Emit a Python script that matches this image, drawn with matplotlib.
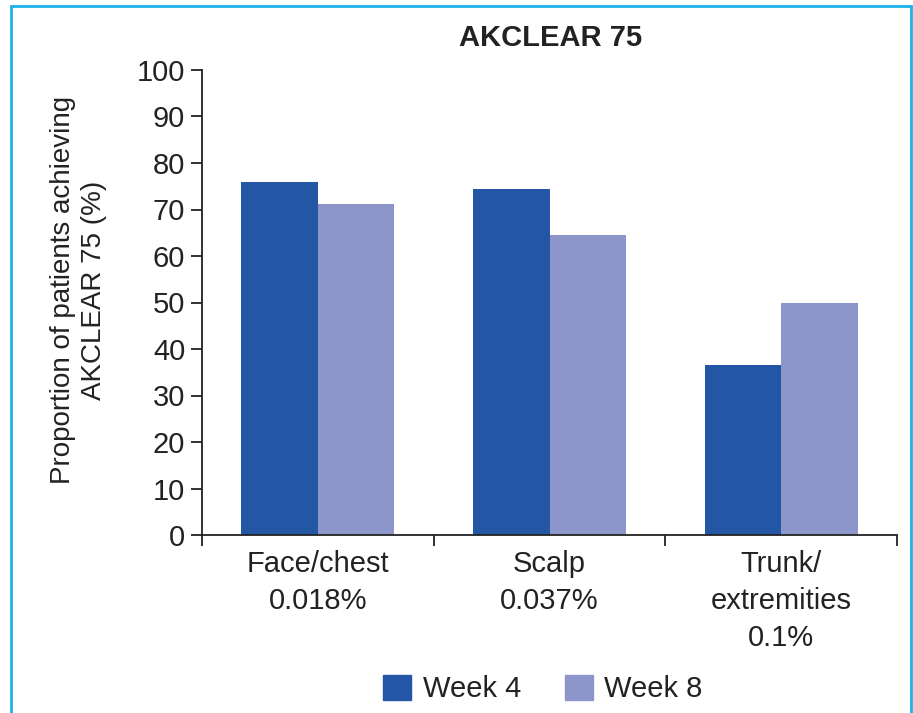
import numpy as np
import matplotlib.pyplot as plt
from matplotlib.patches import Rectangle, Patch

plt.rcParams['font.family'] = ['Liberation Sans', 'DejaVu Sans']

sites = ["Face/chest\n0.018%", "Scalp\n0.037%", "Trunk/\nextremities\n0.1%"]
week4 = [75.9, 74.4, 36.6]
week8 = [71.1, 64.6, 50.0]
series_names = ["Week 4", "Week 8"]
yticks = np.arange(0, 101, 10)

dark = "#2356a5"
light = "#8c96ca"
txt = "#222222"
fs = 21

fig = plt.figure(figsize=(9.13, 7.13), dpi=100)
ax = fig.add_axes([202/913, 1-535/713, (897-202)/913, (535-70)/713])

x = np.arange(len(sites))
w = 0.33
ax.bar(x - w/2, week4, w, color=dark, label=series_names[0])
ax.bar(x + w/2, week8, w, color=light, label=series_names[1])

ax.set_xlim(-0.5, 2.5)
ax.set_ylim(0, 100)
ax.set_yticks(yticks)
ax.set_xticks(x)
ax.set_xticklabels(sites, fontsize=fs, color=txt, linespacing=1.4)
ax.set_xticks(np.arange(-0.5, 3, 1), minor=True)
ax.tick_params(axis='x', which='major', length=0, pad=11)
ax.tick_params(axis='x', which='minor', length=8, width=1.3, direction='out')
ax.tick_params(axis='y', length=8, width=1.3, labelsize=fs, labelcolor=txt, pad=4)

for s in ['top', 'right']:
    ax.spines[s].set_visible(False)
for s in ['left', 'bottom']:
    ax.spines[s].set_linewidth(1.3)
    ax.spines[s].set_color(txt)
ax.tick_params(colors=txt, which='both')

ax.set_ylabel("Proportion of patients achieving\nAKCLEAR 75 (%)", fontsize=20,
              color=txt, linespacing=1.25)
ax.yaxis.set_label_coords(-0.137, 0.527)

fig.text(551/913, 1 - 38/713, "AKCLEAR 75", fontsize=fs,
         fontweight='bold', color=txt, ha='center', va='center')

handles = [Patch(color=dark), Patch(color=light)]
fig.legend(handles, series_names, loc='center', bbox_to_anchor=(543/913, 1 - 689/713),
           ncol=2, frameon=False, fontsize=fs, handlelength=0.96, handleheight=0.96,
           columnspacing=1.5, handletextpad=0.4, labelcolor=txt)

# outer frame
fig.patches.append(Rectangle((11/913, -0.05), (911-11)/913, 1.05 - 6/713,
                             transform=fig.transFigure, fill=False,
                             edgecolor="#1cb2e8", linewidth=2))

fig.savefig("out.png", dpi=100, facecolor='white')
